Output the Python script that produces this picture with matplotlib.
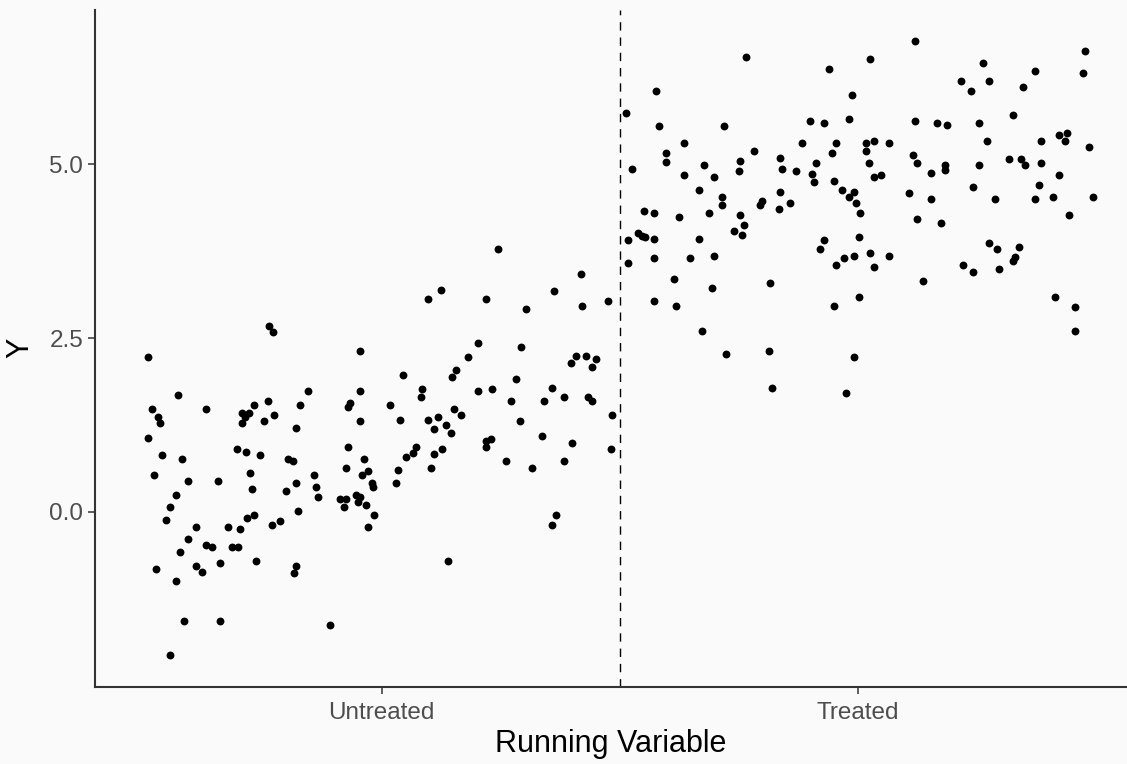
# -*- coding:utf-8 -*-

import matplotlib
matplotlib.use("Agg")
import matplotlib.pyplot as plt
import numpy as np

plt.rcParams['font.family'] = ['Liberation Sans', 'DejaVu Sans']

out_path = "out.png"

# running variable (cutoff at 0) and outcome
# untreated side
x_untreated = [
    -0.736, -0.729, -0.991, -0.545, -0.928, -0.654, -0.545, -0.983, -0.869, -0.768,
    -0.738, -0.671, -0.566, -0.570, -0.970, -0.965, -0.793, -0.779, -0.787, -0.793,
    -0.747, -0.726, -0.680, -0.545, -0.991, -0.961, -0.920, -0.803, -0.785, -0.755,
    -0.696, -0.687, -0.570, -0.537, -0.978, -0.907, -0.843, -0.776, -0.642, -0.575,
    -0.528, -0.541, -0.520, -0.518, -0.680, -0.772, -0.701, -0.638, -0.633, -0.932,
    -0.587, -0.575, -0.579, -0.554, -0.545, -0.549, -0.533, -0.516, -0.528, -0.944,
    -0.953, -0.675, -0.782, -0.768, -0.890, -0.822, -0.797, -0.730, -0.713, -0.907,
    -0.923, -0.869, -0.856, -0.814, -0.801, -0.974, -0.890, -0.877, -0.839, -0.764,
    -0.680, -0.684, -0.932, -0.915, -0.839, -0.608, -0.944,
    -0.255, -0.082, -0.376, -0.402, -0.280, -0.137, -0.196, -0.078, -0.024, -0.297,
    -0.208, -0.318, -0.103, -0.091, -0.070, -0.049, -0.057, -0.343, -0.351, -0.456,
    -0.217, -0.414, -0.418, -0.297, -0.267, -0.141, -0.116, -0.066, -0.057, -0.483,
    -0.229, -0.158, -0.348, -0.334, -0.461, -0.402, -0.381, -0.365, -0.355, -0.389,
    -0.210, -0.015, -0.162, -0.280, -0.271, -0.280, -0.099, -0.428, -0.372, -0.019,
    -0.435, -0.448, -0.389, -0.466, -0.397, -0.470, -0.238, -0.183, -0.116, -0.133,
    -0.141, -0.360,
]
y_untreated = [
    2.67, 2.59, 2.23, 2.31, 1.68, 1.74, 1.74, 1.48, 1.48, 1.54,
    1.59, 1.54, 1.57, 1.51, 1.36, 1.28, 1.43, 1.43, 1.37, 1.28,
    1.31, 1.39, 1.21, 1.31, 1.07, 0.82, 0.76, 0.90, 0.87, 0.82,
    0.76, 0.73, 0.93, 0.76, 0.53, 0.44, 0.44, 0.56, 0.53, 0.64,
    0.59, 0.53, 0.41, 0.36, 0.41, 0.33, 0.30, 0.36, 0.21, 0.24,
    0.18, 0.18, 0.07, 0.24, 0.21, 0.15, 0.10, -0.05, -0.22, 0.07,
    -0.11, 0.01, -0.09, -0.05, -0.22, -0.22, -0.25, -0.19, -0.13, -0.39,
    -0.57, -0.48, -0.51, -0.51, -0.51, -0.82, -0.77, -0.86, -0.74, -0.71,
    -0.77, -0.88, -1.00, -1.57, -1.57, -1.63, -2.06,
    3.78, 3.43, 3.20, 3.06, 3.06, 3.18, 2.92, 2.97, 3.03, 2.43,
    2.37, 2.23, 2.14, 2.25, 2.25, 2.20, 2.08, 2.05, 1.94, 1.97,
    1.91, 1.77, 1.65, 1.74, 1.77, 1.79, 1.65, 1.65, 1.59, 1.54,
    1.59, 1.59, 1.48, 1.39, 1.33, 1.33, 1.36, 1.25, 1.13, 1.19,
    1.31, 1.39, 1.10, 1.02, 1.05, 0.94, 0.99, 0.93, 0.91, 0.91,
    0.85, 0.79, 0.84, 0.61, 0.64, 0.41, 0.73, 0.64, 0.73, -0.05,
    -0.19, -0.71,
]

# treated side
x_treated = [
    0.014, 0.077, 0.266, 0.439, 0.527, 0.489, 0.082, 0.220, 0.401, 0.430,
    0.481, 0.027, 0.098, 0.098, 0.136, 0.136, 0.178, 0.199, 0.166, 0.216,
    0.216, 0.254, 0.250, 0.283, 0.338, 0.342, 0.371, 0.384, 0.405, 0.409,
    0.413, 0.447, 0.455, 0.451, 0.468, 0.493, 0.481, 0.497, 0.506, 0.518,
    0.518, 0.523, 0.534, 0.535, 0.338, 0.359, 0.296, 0.300, 0.334, 0.052,
    0.073, 0.124, 0.187, 0.254, 0.262, 0.241, 0.258, 0.039, 0.047, 0.054,
    0.018, 0.073, 0.166, 0.430, 0.502, 0.018, 0.073, 0.149, 0.199, 0.115,
    0.195, 0.317, 0.073, 0.119, 0.174, 0.224, 0.313, 0.321, 0.422, 0.455,
    0.472, 0.493, 0.527, 0.534, 0.451, 0.502, 0.493, 0.476,
    0.620, 0.763, 0.977, 0.973, 0.717, 0.738, 0.776, 0.872, 0.847, 0.826,
    0.620, 0.666, 0.687, 0.755, 0.566, 0.616, 0.624, 0.549, 0.654, 0.683,
    0.683, 0.755, 0.771, 0.818, 0.843, 0.851, 0.885, 0.885, 0.923, 0.939,
    0.935, 0.986, 0.923, 0.881, 0.608, 0.654, 0.742, 0.788, 0.872, 0.910,
    0.994, 0.944, 0.624, 0.675, 0.566, 0.637, 0.721, 0.742, 0.776, 0.792,
    0.839, 0.830, 0.826, 0.797, 0.914, 0.956, 0.956,
]
y_treated = [
    5.74, 6.06, 6.55, 6.38, 6.52, 6.00, 5.56, 5.56, 5.63, 5.59,
    5.65, 4.93, 5.17, 5.04, 5.31, 4.85, 4.99, 4.82, 4.64, 4.53,
    4.41, 5.05, 4.90, 5.19, 5.10, 4.93, 4.90, 5.31, 4.87, 4.75,
    5.02, 5.16, 5.31, 4.76, 4.64, 4.61, 4.53, 4.44, 4.30, 5.31,
    5.19, 5.02, 5.34, 4.82, 4.61, 4.44, 4.41, 4.47, 4.36, 4.33,
    4.30, 4.24, 4.30, 4.27, 4.13, 4.04, 3.98, 4.01, 3.97, 3.95,
    3.91, 3.93, 3.93, 3.91, 3.96, 3.58, 3.66, 3.66, 3.69, 3.35,
    3.23, 3.29, 3.03, 2.97, 2.60, 2.28, 2.31, 1.79, 3.78, 3.55,
    3.66, 3.69, 3.72, 3.52, 2.97, 3.09, 2.23, 1.71,
    6.78, 6.46, 6.63, 6.32, 6.20, 6.06, 6.20, 6.35, 6.12, 5.71,
    5.63, 5.60, 5.57, 5.60, 5.31, 5.14, 5.02, 4.85, 4.88, 4.99,
    4.92, 4.99, 5.34, 5.08, 5.08, 4.99, 5.34, 5.02, 5.42, 5.45,
    5.34, 5.25, 4.85, 4.71, 4.59, 4.50, 4.68, 4.50, 4.50, 4.53,
    4.53, 4.27, 4.22, 4.16, 3.69, 3.32, 3.55, 3.46, 3.87, 3.78,
    3.81, 3.67, 3.61, 3.49, 3.09, 2.95, 2.60,
]

cutoff = 0.0
x_ticks = [-0.5, 0.5]
x_tick_labels = ['Untreated', 'Treated']
y_ticks = [0.0, 2.5, 5.0]
y_tick_labels = ['0.0', '2.5', '5.0']


def main():
    bg = '#fafafa'
    fig = plt.figure(figsize=(11.27, 7.64), dpi=100, facecolor=bg)
    ax = fig.add_axes([95 / 1127, 77.5 / 764, 1 - 95 / 1127, 676.5 / 764])
    ax.set_facecolor(bg)

    x = np.array(x_untreated + x_treated)
    y = np.array(y_untreated + y_treated)
    ax.scatter(x, y, s=32, color='black', linewidths=0, zorder=3)

    # cutoff
    ax.axvline(cutoff, color='black', linewidth=1.0, dashes=(6, 5), zorder=2)

    ax.set_xlim(-1.102, 1.066)
    ax.set_ylim(-2.511, 7.223)

    ax.set_xticks(x_ticks)
    ax.set_xticklabels(x_tick_labels)
    ax.set_yticks(y_ticks)
    ax.set_yticklabels(y_tick_labels)

    for side in ['top', 'right']:
        ax.spines[side].set_visible(False)
    for side in ['left', 'bottom']:
        ax.spines[side].set_color('#333333')
        ax.spines[side].set_linewidth(1.5)

    ax.tick_params(axis='both', length=5, width=1.1, color='#333333',
                   labelcolor='#4d4d4d', labelsize=17.5)
    ax.tick_params(axis='x', pad=6)
    ax.tick_params(axis='y', pad=3.5)

    ax.set_xlabel('Running Variable', fontsize=22, color='black', labelpad=4)
    ax.set_ylabel('Y', fontsize=22, color='black', labelpad=10)

    plt.savefig(out_path, dpi=100, facecolor=bg)


if __name__ == "__main__":
    main()
